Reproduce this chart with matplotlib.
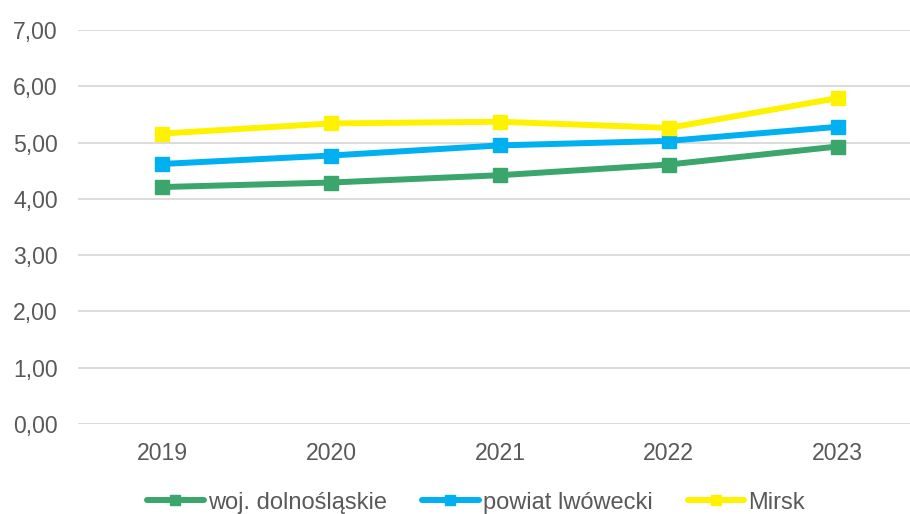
import matplotlib.pyplot as plt
import numpy as np

plt.rcParams['font.family'] = ['Liberation Sans', 'DejaVu Sans']

years = ['2019', '2020', '2021', '2022', '2023']
woj = [4.21, 4.29, 4.42, 4.61, 4.93]
powiat = [4.62, 4.77, 4.95, 5.03, 5.28]
mirsk = [5.16, 5.34, 5.37, 5.26, 5.79]

series_names = ['woj. dolnośląskie', 'powiat lwówecki', 'Mirsk']
series_colors = ['#3AA66B', '#00B0F0', '#FFF200']

text_col = '#595959'

fig = plt.figure(figsize=(9.1, 5.14), dpi=100)
ax = fig.add_axes([78 / 910, 1 - 424 / 514, 844 / 910, 394 / 514])

x = np.arange(len(years))
for vals, name, col in zip([woj, powiat, mirsk], series_names, series_colors):
    ax.plot(x, vals, color=col, lw=4.3, marker='s', markersize=10.5,
            label=name, solid_capstyle='round')

ax.set_xlim(-0.5, len(years) - 0.5)
ax.set_ylim(0, 7)
ax.set_yticks(np.arange(0, 8, 1))
ax.set_yticklabels([f'{v:.2f}'.replace('.', ',') for v in np.arange(0, 8, 1)])
ax.set_xticks(x)
ax.set_xticklabels(years)
ax.grid(axis='y', color='#D9D9D9', lw=1.3)
ax.set_axisbelow(True)
for s in ax.spines.values():
    s.set_visible(False)
ax.tick_params(length=0, labelsize=16.6, colors=text_col)
ax.tick_params(axis='y', pad=14.5)
ax.tick_params(axis='x', pad=13)

fig.legend(loc='center', bbox_to_anchor=(476 / 910, 0.022), ncol=3, frameon=False,
           fontsize=17, labelcolor=text_col, handlelength=2.4, markerscale=0.75,
           handletextpad=0.17, columnspacing=1.5, borderpad=0)

fig.savefig('out.png', dpi=100)
